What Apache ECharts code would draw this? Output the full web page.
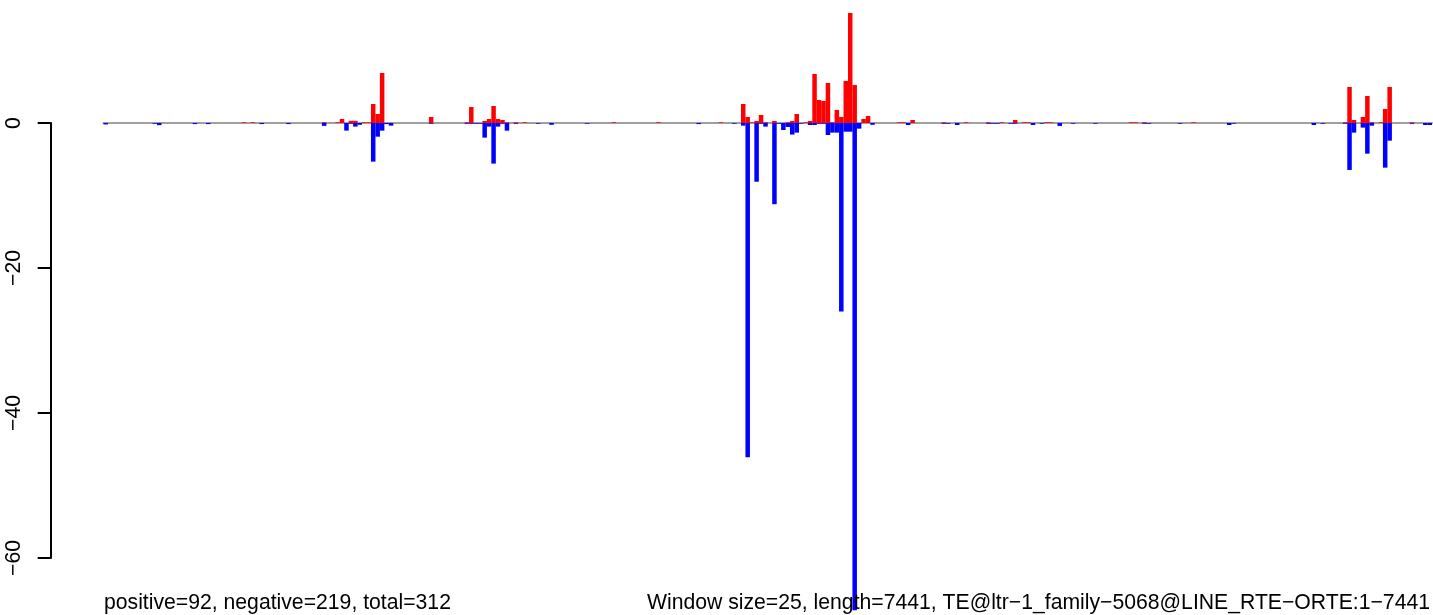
<!DOCTYPE html>
<html><head><meta charset="utf-8">
<script src="https://cdn.jsdelivr.net/npm/echarts@6/dist/echarts.min.js"></script>
<style>html,body{margin:0;padding:0;background:#fff}#c{width:1433px;height:615px}</style>
</head><body><div id="c"></div>
<script>
const windowSize = 25;
const seqLength = 7441;
const windowCount = 298;

// window index -> positive score (red)
const posWindows = [31,33,49,52,53,55,56,58,59,60,61,62,73,81,82,85,86,87,88,89,90,92,94,114,124,138,
  143,144,145,146,147,148,150,153,154,155,157,158,159,160,161,162,163,164,165,166,167,168,170,171,
  178,179,181,188,193,198,201,204,206,207,211,212,230,231,233,244,278,279,280,282,283,284,286,287,288,293];
const posValues = [0.1,0.1,0.1,0.1,0.55,0.3,0.3,0.1,0.1,2.62,1.24,6.9,0.83,0.1,2.2,0.28,0.55,2.34,0.55,0.41,0.1,0.1,0.1,0.1,0.1,0.1,
  2.62,0.83,0.1,0.28,1.1,0.1,0.28,0.1,0.28,1.24,0.1,0.28,6.76,3.17,3.03,5.52,0.1,1.8,0.83,5.8,15.17,5.24,0.55,0.97,
  0.1,0.1,0.41,0.1,0.1,0.1,0.1,0.41,0.1,0.1,0.1,0.1,0.1,0.1,0.1,0.1,0.1,4.97,0.41,0.83,3.72,0.1,0.1,1.93,4.97,0.1];

// window index -> negative score (blue)
const negWindows = [0,11,12,20,23,35,41,49,54,55,56,57,60,61,62,63,64,73,81,82,83,84,85,86,87,88,89,90,92,97,100,108,133,141,
  143,144,146,147,148,150,151,152,153,154,155,156,158,159,160,161,162,163,164,165,166,167,168,169,172,
  180,188,189,191,198,199,200,203,204,208,210,214,217,222,233,234,241,252,253,271,273,278,279,280,282,283,284,287,288,293,296,297];
const negValues = [-0.2,-0.1,-0.3,-0.15,-0.15,-0.15,-0.15,-0.4,-1.05,-0.1,-0.5,-0.25,-5.33,-1.89,-1.06,-0.15,-0.37,-0.1,-0.1,-0.1,-0.1,-0.1,-2.02,-0.5,-5.6,-0.5,-0.1,-1.06,-0.1,-0.1,-0.25,-0.1,-0.15,-0.1,
  -0.37,-46.1,-8.1,-0.1,-0.5,-11.2,-0.1,-0.97,-0.55,-1.6,-1.33,-0.1,-0.28,-0.28,-0.1,-0.1,-1.66,-1.33,-1.33,-26.0,-1.2,-1.2,-67.2,-0.78,-0.25,
  -0.28,-0.1,-0.1,-0.28,-0.1,-0.1,-0.1,-0.1,-0.1,-0.28,-0.1,-0.41,-0.1,-0.1,-0.1,-0.1,-0.1,-0.28,-0.1,-0.28,-0.1,-0.1,-6.48,-1.33,-0.64,-4.23,-0.37,-6.16,-2.44,-0.1,-0.28,-0.28];

const yTicks = [0, -20, -40, -60];
const leftNote = "positive=92, negative=219, total=312";
const rightNote = "Window size=25, length=7441, TE@ltr\u22121_family\u22125068@LINE_RTE\u2212ORTE:1\u22127441";

const categories = [];
for (let i = 0; i < windowCount; i++) categories.push(String(i * windowSize + 1));
const pos = new Array(windowCount).fill('-');
posWindows.forEach((w, k) => { pos[w] = posValues[k]; });
const neg = new Array(windowCount).fill('-');
negWindows.forEach((w, k) => { neg[w] = negValues[k]; });

const FONT = '"Liberation Sans", Arial, Helvetica, sans-serif';
const chart = echarts.init(document.getElementById('c'), null, {renderer: 'canvas'});
chart.setOption({
  animation: false,
  backgroundColor: '#fff',
  title: [
    {text: leftNote, left: 104, top: 593, padding: 0,
     textStyle: {fontFamily: FONT, fontSize: 21.2, fontWeight: 'normal', color: '#000', lineHeight: 21}},
    {text: rightNote, right: 3, top: 593, padding: 0,
     textStyle: {fontFamily: FONT, fontSize: 21.2, fontWeight: 'normal', color: '#000', lineHeight: 21}}
  ],
  grid: [
    {left: 103.5, right: 1, top: 10.6, bottom: 4.8},
    {left: 50.7, width: 1, top: 123, height: 435}
  ],
  xAxis: [
    {type: 'category', data: categories, gridIndex: 0,
     axisLine: {show: true, onZero: true, lineStyle: {color: '#a0a0a0', width: 2}},
     axisTick: {show: false}, axisLabel: {show: false}, splitLine: {show: false}},
    {type: 'value', gridIndex: 1, show: false}
  ],
  yAxis: [
    {type: 'value', gridIndex: 0, min: -67.2, max: 15.5, show: false, splitLine: {show: false}},
    {type: 'value', gridIndex: 1, min: -60, max: 0, interval: 20, position: 'left',
     axisLine: {show: true, lineStyle: {color: '#000', width: 2}},
     axisTick: {show: true, length: 13, lineStyle: {color: '#000', width: 2}},
     splitLine: {show: false},
     axisLabel: {rotate: 90, margin: 26, color: '#000', fontSize: 21.2, fontFamily: FONT,
       customValues: yTicks,
       formatter: v => String(v).replace('-', '\u2212')}}
  ],
  series: [
    {type: 'bar', name: 'positive', data: pos, xAxisIndex: 0, yAxisIndex: 0,
     itemStyle: {color: '#ff0000'}, barGap: '-100%', barWidth: 4.5},
    {type: 'bar', name: 'negative', data: neg, xAxisIndex: 0, yAxisIndex: 0,
     itemStyle: {color: '#0000ff'}, barGap: '-100%', barWidth: 4.5}
  ]
});
</script></body></html>
